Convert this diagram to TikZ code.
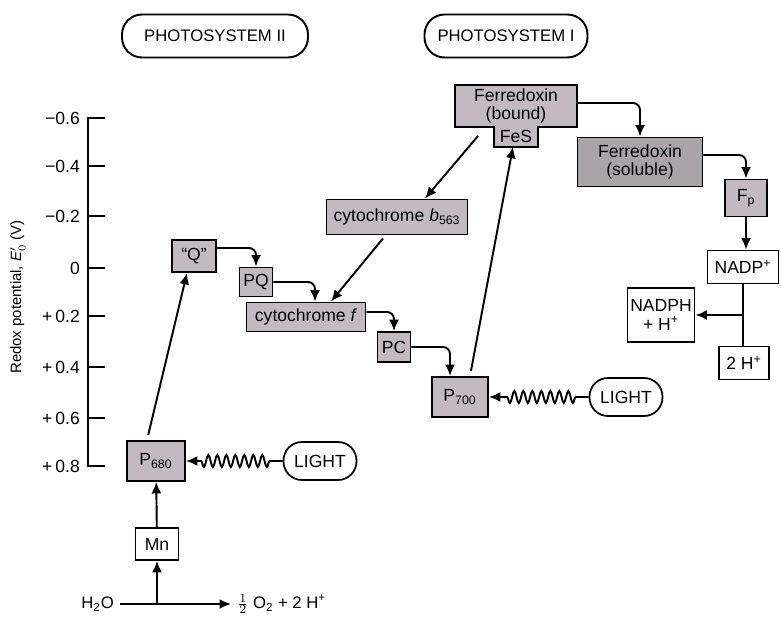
\documentclass[tikz,border=0pt]{standalone}
\usepackage{fontspec}
\setmainfont{Liberation Sans}
\usetikzlibrary{arrows.meta,positioning,decorations.pathmorphing,calc}
\definecolor{boxgray}{RGB}{194,186,192}
\definecolor{boxdark}{RGB}{170,163,168}

\begin{document}
\begin{tikzpicture}[
    x=0.02cm, y=-0.02cm,
    box/.style={draw, line width=1.1pt, fill=boxgray, inner sep=1pt, font=\fontsize{10}{10.5}\selectfont, align=center},
    plain/.style={box, fill=white},
    header/.style={draw, line width=1.1pt, rounded corners=0.4cm, minimum height=0.86cm, font=\fontsize{9.5}{11}\selectfont},
    light/.style={draw, line width=1pt, rounded corners=0.37cm, minimum width=1.46cm, minimum height=0.76cm, font=\fontsize{10}{11}\selectfont},
    arrow/.style={-{Latex[length=2.3mm, width=2mm]}, line width=1.1pt, rounded corners=4pt},
    wave/.style={-{Latex[length=2.3mm, width=2mm]}, line width=1.1pt, decorate, decoration={snake, amplitude=0.12cm, segment length=0.18cm, pre length=0.26cm, post length=0.3cm}}
]
    \useasboundingbox (0,0) rectangle (781,621);

    % headers
    \node[header, minimum width=3.72cm] (ps2) at (215,36) {PHOTOSYSTEM II};
    \node[header, minimum width=3.26cm] (ps1) at (506,36) {PHOTOSYSTEM I};

    % redox axis
    \draw[line width=1.1pt] (105,118) -- (88,118) -- (88,466) -- (105,466);
    \foreach \y/\t in {118/−0.6, 166/−0.4, 216/−0.2, 268/0, 316/+\,0.2, 367/+\,0.4, 418/+\,0.6, 466/+\,0.8} {
        \draw[line width=1.1pt] (88,\y) -- (105,\y);
        \node[anchor=east, font=\fontsize{10}{11}\selectfont] at (86,\y) {\t};
    }
    \node[rotate=90, font=\fontsize{8.5}{10}\selectfont] (ylab) at (18,297) {Redox potential, \textit{E}$'_0$ (V)};

    % photosystem II side
    \node[box, minimum width=1.16cm, minimum height=0.8cm] (p680) at (156,461) {P\textsubscript{680}};
    \node[plain, minimum width=0.86cm, minimum height=0.64cm] (mn) at (157,544) {Mn};
    \node[anchor=east, font=\fontsize{9.5}{11}\selectfont] (h2o) at (120,604) {H\textsubscript{2}O};
    \node[anchor=west, font=\fontsize{9.5}{11}\selectfont] (o2) at (231,604) {$\frac{1}{2}$ O\textsubscript{2} + 2 H\textsuperscript{+}};
    \node[light] (light2) at (320,461) {LIGHT};

    \node[box, minimum width=0.88cm, minimum height=0.64cm] (q) at (194,256) {``Q''};
    \node[box, minimum width=0.66cm, minimum height=0.58cm] (pq) at (256,282) {PQ};
    \node[box, minimum width=2.38cm, minimum height=0.58cm] (cytf) at (306,317) {cytochrome \textit{f}};
    \node[box, minimum width=0.66cm, minimum height=0.6cm] (pc) at (394,347) {PC};
    \node[box, minimum width=2.82cm, minimum height=0.7cm] (cytb) at (397,217) {cytochrome \textit{b}\textsubscript{563}};

    % photosystem I side
    \node[box, minimum width=1.12cm, minimum height=0.8cm] (p700) at (460,397) {P\textsubscript{700}};
    \node[light] (light1) at (626,397) {LIGHT};
    \node[box, minimum width=2.44cm, minimum height=0.84cm] (fdb) at (516,106) {Ferredoxin\\(bound)};
    \node[fill=boxgray, inner sep=0pt, minimum width=0.88cm, minimum height=0.4cm, font=\fontsize{10}{10.5}\selectfont, below=-1.1pt of fdb] (fes) {FeS};
    \draw[line width=1.1pt] (fes.north west) |- (fes.south east) -- (fes.north east);
    \node[box, fill=boxdark, minimum width=2.5cm, minimum height=0.98cm] (fds) at (640,162) {Ferredoxin\\(soluble)};
    \node[box, minimum width=0.84cm, minimum height=0.74cm] (fp) at (746,198) {F\textsubscript{p}};
    \node[plain, minimum width=1.42cm, minimum height=0.66cm] (nadp) at (743,267) {NADP\textsuperscript{+}};
    \node[plain, minimum width=1.34cm, minimum height=1.08cm] (nadph) at (661,315) {NADPH\\+ H\textsuperscript{+}};
    \node[plain, minimum width=1.0cm, minimum height=0.66cm] (hh) at (744,363) {2 H\textsuperscript{+}};

    % electron flow
    \draw[arrow] (h2o) -- (o2);
    \draw[arrow] (h2o.east -| mn) -- (mn);
    \draw[arrow] (mn) -- (p680);
    \draw[wave] (light2) -- (p680);
    \draw[arrow, shorten <=3pt] ([xshift=-0.18cm]p680.north) -- ([xshift=-0.14cm]q.south);
    \draw[arrow] ([yshift=0.16cm]q.east) -| (pq.north);
    \draw[arrow] (pq.east) -| ([xshift=0.18cm]cytf.north);
    \draw[arrow] ([xshift=-0.28cm]cytb.south) ++(0,3) -- ([xshift=0.5cm]cytf.north);
    \draw[arrow] ([yshift=0.1cm]cytf.east) -| (pc.north);
    \draw[arrow] (pc.east) -| ([xshift=-0.2cm]p700.north);
    \draw[wave] (light1) -- (p700);
    \draw[arrow, shorten <=3pt] ([xshift=0.2cm]p700.north) -- ([xshift=-0.06cm]fes.south);
    \draw[arrow] ($(fdb.south west)+(24,8)$) -- ([xshift=0.56cm]cytb.north);
    \draw[arrow] ([yshift=0.06cm]fdb.east) -| (fds.north);
    \draw[arrow] ([yshift=0.14cm]fds.east) -| (fp.north);
    \draw[arrow] (fp.south) -- (fp.south |- nadp.north);
    \draw[line width=1.1pt] (nadp.south) -- (nadp.south |- hh.north);
    \draw[arrow] (nadp.south |- nadph.east) -- (nadph.east);
\end{tikzpicture}
\end{document}
